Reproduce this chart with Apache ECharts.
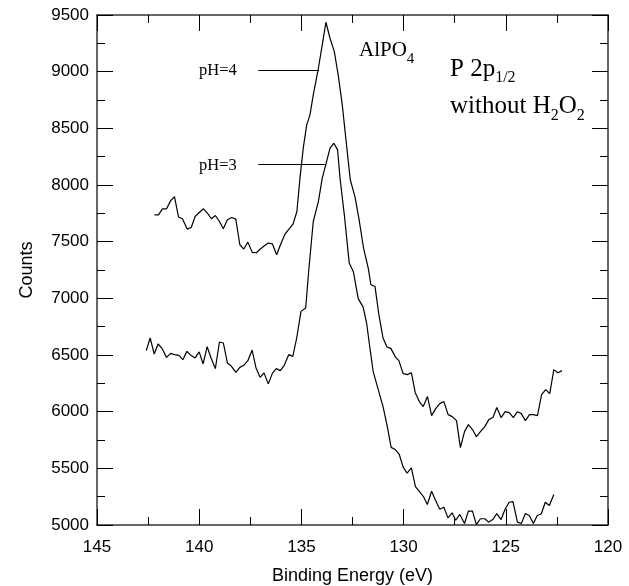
<!DOCTYPE html>
<html><head><meta charset="utf-8">
<script src="https://cdn.jsdelivr.net/npm/echarts@6/dist/echarts.min.js"></script>
<style>html,body{margin:0;padding:0;background:#fff}#c{width:629px;height:586px}</style>
</head><body><div id="c"></div>
<script>
// pH=4 spectrum (binding energy eV, counts)
const ph4Energy = [142.19,141.99,141.80,141.60,141.40,141.21,141.01,140.82,140.59,140.39,140.20,140.00,139.79,139.60,139.40,139.21,139.01,138.82,138.62,138.41,138.21,138.01,137.82,137.62,137.40,137.20,137.01,136.81,136.62,136.42,136.21,136.01,135.80,135.61,135.41,135.22,135.07,134.91,134.74,134.58,134.42,134.17,133.98,133.80,133.60,133.39,133.20,133.00,132.81,132.61,132.38,132.19,131.96,131.73,131.60,131.40,131.21,131.01,130.82,130.62,130.38,130.23,130.02,129.82,129.62,129.43,129.23,129.04,128.83,128.63,128.43,128.23,128.03,127.82,127.62,127.41,127.22,127.02,126.83,126.63,126.44,126.24,126.03,125.83,125.63,125.44,125.23,125.03,124.83,124.63,124.43,124.24,124.04,123.84,123.65,123.45,123.25,123.05,122.85,122.65,122.45,122.25];
const ph4Counts = [7737,7737,7790,7790,7860,7898,7717,7702,7611,7625,7722,7757,7790,7752,7702,7731,7678,7614,7693,7713,7699,7473,7435,7496,7405,7402,7435,7464,7488,7481,7384,7479,7567,7611,7655,7766,8061,8325,8530,8619,8795,9030,9236,9436,9295,9177,8971,8707,8383,8046,7898,7708,7444,7267,7120,7105,6856,6653,6573,6556,6477,6450,6335,6327,6344,6168,6089,6045,6133,5965,6027,6071,6089,5974,5956,5921,5683,5824,5886,5842,5780,5824,5868,5930,5948,6036,5948,6000,5992,5948,6000,5983,5921,5974,5974,5965,6150,6194,6159,6371,6344,6362];
// pH=3 spectrum
const ph3Energy = [142.59,142.40,142.20,142.01,141.81,141.60,141.40,141.21,140.99,140.80,140.60,140.41,140.20,140.00,139.81,139.61,139.42,139.21,139.01,138.82,138.62,138.42,138.21,138.01,137.82,137.62,137.41,137.22,137.02,136.83,136.62,136.42,136.23,136.03,135.84,135.62,135.42,135.23,135.02,134.79,134.63,134.42,134.17,133.98,133.81,133.60,133.41,133.23,133.11,132.90,132.66,132.46,132.22,131.98,131.81,131.65,131.49,131.24,131.00,130.80,130.61,130.41,130.22,130.02,129.83,129.62,129.42,129.22,129.03,128.84,128.63,128.44,128.23,128.03,127.83,127.63,127.45,127.25,127.02,126.83,126.63,126.44,126.24,126.03,125.84,125.64,125.44,125.23,125.04,124.84,124.65,124.43,124.24,124.04,123.85,123.65,123.46,123.26,123.07,122.87,122.65];
const ph3Counts = [6538,6650,6509,6597,6556,6479,6514,6503,6497,6459,6532,6497,6474,6527,6421,6573,6474,6380,6615,6606,6430,6400,6347,6391,6409,6450,6544,6386,6303,6342,6245,6338,6380,6362,6409,6503,6488,6650,6885,6915,7267,7678,7854,8061,8178,8325,8369,8310,8061,7737,7311,7237,6997,6922,6782,6565,6356,6194,6040,5871,5685,5666,5626,5511,5457,5504,5339,5295,5251,5181,5298,5219,5139,5156,5063,5108,5042,5093,5013,5122,5122,5004,5055,5055,5025,5048,5101,5048,5137,5201,5207,5025,5013,5101,5084,5013,5084,5099,5201,5172,5269];
// leader lines for labels [startE, endE, counts]
const leader4 = [137.11, 134.13, 9015];
const leader3 = [137.11, 133.85, 8184];
const xRange = [120, 145];
const yRange = [5000, 9500];

const chart = echarts.init(document.getElementById('c'), null, {renderer: 'canvas'});
const AX = '#333';
function xAxis(pos, show) {
  return {
    type: 'value', position: pos, min: xRange[0], max: xRange[1], interval: 5, inverse: true,
    axisLine: {show: true, onZero: false, lineStyle: {color: AX, width: 1.5}},
    axisTick: {show: true, inside: true, length: 16, lineStyle: {color: '#000', width: 1}},
    minorTick: {show: true, splitNumber: 2, length: 8, lineStyle: {color: '#000', width: 1}},
    splitLine: {show: false}, minorSplitLine: {show: false},
    axisLabel: {show: show, color: '#000', fontFamily: 'Liberation Sans', fontSize: 17, margin: 14,
      formatter: v => String(v)},
    name: show ? 'Binding Energy (eV)' : '', nameLocation: 'middle', nameGap: 42,
    nameTextStyle: {color: '#000', fontFamily: 'Liberation Sans', fontSize: 18}
  };
}
function yAxis(pos, show) {
  return {
    type: 'value', position: pos, min: yRange[0], max: yRange[1], interval: 500,
    axisLine: {show: true, onZero: false, lineStyle: {color: AX, width: 1.5}},
    axisTick: {show: true, inside: true, length: 16, lineStyle: {color: '#000', width: 1}},
    minorTick: {show: true, splitNumber: 2, length: 8, lineStyle: {color: '#000', width: 1}},
    splitLine: {show: false}, minorSplitLine: {show: false},
    axisLabel: {show: show, color: '#000', fontFamily: 'Liberation Sans', fontSize: 17, margin: 8,
      formatter: v => String(v)},
    name: show ? 'Counts' : '', nameLocation: 'middle', nameGap: 61, nameRotate: 90,
    nameTextStyle: {color: '#000', fontFamily: 'Liberation Sans', fontSize: 18}
  };
}
const pair = (xs, ys) => xs.map((x, i) => [x, ys[i]]);

const ctx = document.createElement('canvas').getContext('2d');
function tw(t, size) { ctx.font = size + 'px "Liberation Serif"'; return ctx.measureText(t).width; }
function richText(parts, x, yMid, size, subSize, subOff) {
  const els = []; let cx = x;
  parts.forEach(([t, sub]) => {
    const s = sub ? subSize : size;
    els.push({type: 'text', x: cx, y: sub ? yMid + subOff : yMid, silent: true,
      style: {text: t, font: s + 'px "Liberation Serif"', fill: '#000', align: 'left', verticalAlign: 'middle'}});
    cx += tw(t, s);
  });
  return els;
}
const graphics = [].concat(
  richText([['pH=4', false]], 199, 71, 16.5, 11, 0),
  richText([['pH=3', false]], 199, 166, 16.5, 11, 0),
  richText([['AlPO', false], ['4', true]], 359, 50, 21, 15, 9),
  richText([['P 2p', false], ['1/2', true]], 450, 69, 25, 16, 9),
  richText([['without H', false], ['2', true], ['O', false], ['2', true]], 450, 106, 25, 16, 10)
);

chart.setOption({
  animation: false,
  backgroundColor: '#fff',
  grid: {left: 97, right: 21, top: 15, bottom: 61, containLabel: false, outerBoundsMode: 'none'},
  xAxis: [xAxis('bottom', true), xAxis('top', false)],
  yAxis: [yAxis('left', true), yAxis('right', false)],
  series: [
    {type: 'line', name: 'pH=4', data: pair(ph4Energy, ph4Counts), symbol: 'none', showSymbol: false,
     lineStyle: {color: '#000', width: 1.2}, clip: true,
     markLine: {silent: true, symbol: 'none', label: {show: false}, lineStyle: {color: '#000', width: 1, type: 'solid'},
       data: [[{coord: [leader4[0], leader4[2]]}, {coord: [leader4[1], leader4[2]]}]]}},
    {type: 'line', name: 'pH=3', data: pair(ph3Energy, ph3Counts), symbol: 'none', showSymbol: false,
     lineStyle: {color: '#000', width: 1.2}, clip: true,
     markLine: {silent: true, symbol: 'none', label: {show: false}, lineStyle: {color: '#000', width: 1, type: 'solid'},
       data: [[{coord: [leader3[0], leader3[2]]}, {coord: [leader3[1], leader3[2]]}]]}}
  ],
  graphic: graphics
});
</script></body></html>
